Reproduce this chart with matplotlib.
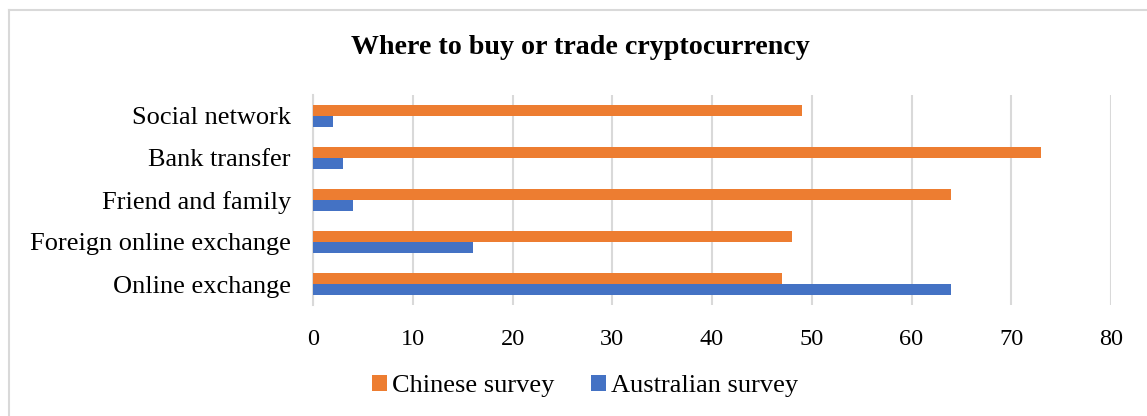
import matplotlib.pyplot as plt
import numpy as np
from matplotlib.lines import Line2D

categories = ['Online exchange', 'Foreign online exchange', 'Friend and family',
              'Bank transfer', 'Social network']
chinese = [47, 48, 64, 73, 49]
australian = [64, 16, 4, 3, 2]
ticks = [0, 10, 20, 30, 40, 50, 60, 70, 80]

plt.rcParams['font.family'] = ['Liberation Serif', 'DejaVu Serif']

W, H = 1147, 416
fig = plt.figure(figsize=(W / 100, H / 100), dpi=100)
ax = fig.add_axes([313 / W, 1 - 305 / H, (1111 - 313) / W, (305 - 95) / H])

y = np.arange(len(categories))
h = 0.257
ax.barh(y + h / 2, chinese, height=h, color='#ED7D31', label='Chinese survey', zorder=3)
ax.barh(y - h / 2, australian, height=h, color='#4472C4', label='Australian survey', zorder=3)

ax.set_xlim(0, 80)
ax.set_ylim(-0.5, len(categories) - 0.5)
ax.set_xticks(ticks)
ax.set_xticklabels([str(t) for t in ticks], fontsize=17.5)
ax.set_yticks(y)
ax.set_yticklabels(categories, fontsize=19)
ax.tick_params(axis='both', length=0)
ax.tick_params(axis='x', pad=17)
ax.tick_params(axis='y', pad=16)
ax.grid(axis='x', color='#D9D9D9', linewidth=1.5, zorder=0)
for s in ['top', 'right', 'bottom']:
    ax.spines[s].set_visible(False)
ax.spines['left'].set_color('#D9D9D9')
ax.spines['left'].set_linewidth(1.5)

fig.text(580 / W, 1 - 48 / H, 'Where to buy or trade cryptocurrency',
         ha='center', va='center', fontsize=20.2, fontweight='bold')

fig.legend(loc='center', bbox_to_anchor=(585 / W, 1 - 386 / H), ncol=2, frameon=False,
           fontsize=19, handlelength=0.55, handleheight=0.55, handletextpad=0.2,
           columnspacing=1.4)

# chart border
fig.add_artist(Line2D([9 / W, 1], [1 - 9.5 / H, 1 - 9.5 / H], color='#D9D9D9', lw=1.5))
fig.add_artist(Line2D([9 / W, 9 / W], [0, 1 - 9.5 / H], color='#D9D9D9', lw=1.5))

plt.savefig('out.png', dpi=100)
